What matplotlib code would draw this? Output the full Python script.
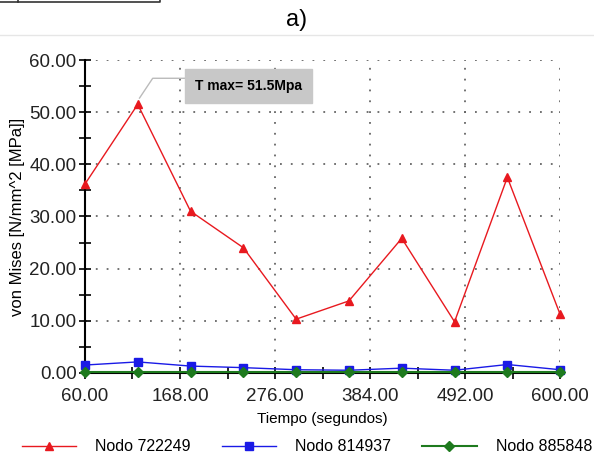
import matplotlib.pyplot as plt
from matplotlib.lines import Line2D
import numpy as np

plt.rcParams['font.family'] = ['Liberation Sans', 'DejaVu Sans']

# datos
tiempo = [60, 120, 180, 240, 300, 360, 420, 480, 540, 600]
nodo_722249 = [36.2, 51.5, 31.0, 24.0, 10.3, 13.8, 25.8, 9.8, 37.5, 11.2]
nodo_814937 = [1.5, 2.1, 1.3, 1.0, 0.6, 0.5, 0.9, 0.5, 1.6, 0.6]
nodo_885848 = [0.1, 0.1, 0.1, 0.1, 0.1, 0.1, 0.1, 0.1, 0.1, 0.1]
xticks = [60, 168, 276, 384, 492, 600]
yticks = [0, 10, 20, 30, 40, 50, 60]
t_max = 51.5
t_max_x = 120

fig = plt.figure(figsize=(5.94, 4.69), dpi=100)
ax = fig.add_axes([0.143, 0.205, 0.80, 0.667])

ax.plot(tiempo, nodo_722249, color='#e8191f', lw=1, marker='^', ms=5.5, clip_on=False, zorder=5)
ax.plot(tiempo, nodo_814937, color='#1a1ae6', lw=1, marker='s', ms=6, clip_on=False, zorder=5)
ax.plot(tiempo, nodo_885848, color='#1e7a1e', lw=1.5, marker='D', ms=5, clip_on=False, zorder=5)

ax.set_xlim(60, 600)
ax.set_ylim(0, 60)
ax.set_xticks(xticks)
ax.set_xticklabels(['%.2f' % v for v in xticks], fontsize=13.5, color='#222222')
ax.set_yticks(yticks)
ax.set_yticklabels(['%.2f' % v for v in yticks], fontsize=13.5, color='#222222')
ax.set_xticks(np.arange(60, 601, 54), minor=True)
ax.set_yticks(np.arange(0, 61, 5), minor=True)
ax.tick_params(which='both', direction='inout', length=8, width=1.2, color='black')
ax.tick_params(axis='x', pad=7)
ax.tick_params(axis='y', pad=2)

for s in ['top', 'right']:
    ax.spines[s].set_visible(False)
for s in ['left', 'bottom']:
    ax.spines[s].set_linewidth(1.5)

ax.grid(True, which='major', linestyle=(0, (1, 5)), color='#666666', lw=1.3)

ax.set_xlabel('Tiempo (segundos)', fontsize=11, labelpad=5)
ax.set_ylabel('von Mises [N/mm^2 [MPa]]', fontsize=12, labelpad=3)

# etiqueta del maximo (linea guia + caja)
ax.plot([t_max_x + 2, 137, 183], [t_max + 1.2, 56.5, 56.5], color='#bbbbbb', lw=1,
        clip_on=False, zorder=4)
ax.text(185, 55.0, 'T max= 51.5Mpa', fontsize=10, fontweight='bold', va='center', ha='left',
        bbox=dict(boxstyle='square,pad=0.7', fc='#c8c8c8', ec='#c8c8c8'), zorder=6)

# titulo y linea
fig.text(0.5, 0.957, 'a)', ha='center', va='center', fontsize=17)
fig.add_artist(Line2D([0, 1], [0.925, 0.925], color='#e6e6e6', lw=1))
fig.add_artist(Line2D([0, 0.27, 0.27], [0.995, 0.995, 1.0], color='#333333', lw=1.2))
fig.add_artist(Line2D([0.03, 0.03], [0.995, 1.0], color='#333333', lw=1.2))

# leyenda
handles = [
    Line2D([], [], color='#e8191f', lw=1, marker='^', ms=5.5),
    Line2D([], [], color='#1a1ae6', lw=1, marker='s', ms=6),
    Line2D([], [], color='#1e7a1e', lw=1.5, marker='D', ms=5),
]
fig.legend(handles, ['Nodo 722249', 'Nodo 814937', 'Nodo 885848'],
           loc='center left', bbox_to_anchor=(0.012, 0.047), ncol=3,
           frameon=False, fontsize=11.5, handlelength=3.4, handletextpad=1.2,
           columnspacing=1.95)

fig.savefig('out.png', dpi=100)
